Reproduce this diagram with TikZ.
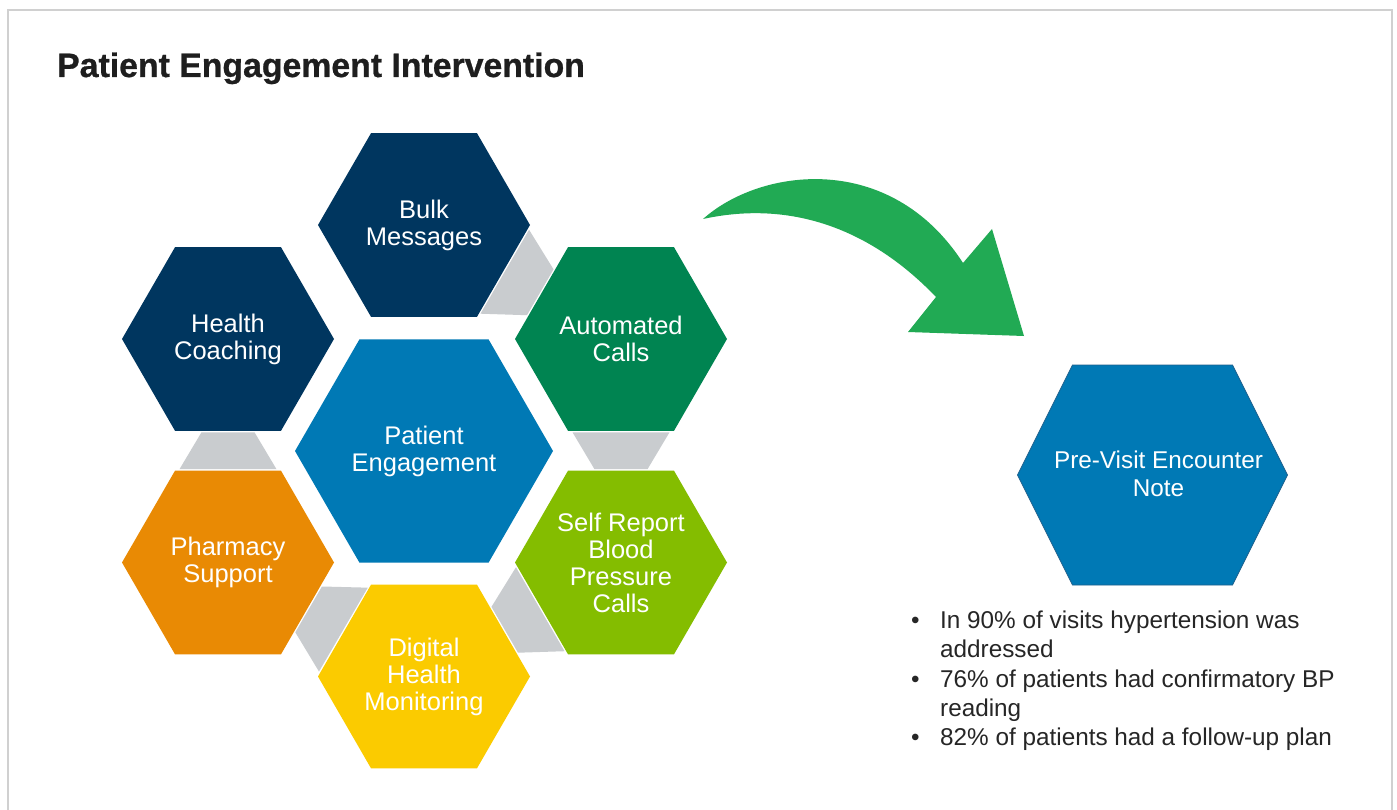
\documentclass[tikz,border=0pt]{standalone}
\usepackage{fontspec}
\setmainfont{Liberation Sans}
\newfontfamily\headingfont[FakeBold=0.8]{Liberation Sans Bold}
\usetikzlibrary{shapes.geometric,calc}

\definecolor{navy}{HTML}{00365F}
\definecolor{deepgreen}{HTML}{008451}
\definecolor{peblue}{HTML}{0079B5}
\definecolor{peedge}{HTML}{1D5F8C}
\definecolor{pharmorange}{HTML}{E98A04}
\definecolor{limegreen}{HTML}{84BD00}
\definecolor{sunyellow}{HTML}{FBCB00}
\definecolor{gapgrey}{HTML}{C9CCCF}
\definecolor{arrowgreen}{HTML}{21AA54}
\definecolor{framegrey}{HTML}{D0D0D0}
\definecolor{titleblack}{HTML}{1E1E1E}
\definecolor{bodygrey}{HTML}{262626}

\tikzset{
  hexnode/.style={regular polygon, regular polygon sides=6, minimum size=212pt,
    inner sep=0pt, outer sep=0pt, text=white, align=center,
    font=\fontsize{25.5}{27}\selectfont},
  bighex/.style={hexnode, minimum size=258pt},
  labeltext/.style={inner sep=0pt, text=white, align=center,
    font=\fontsize{24.3}{28}\selectfont},
}

% grey trapezoid filling the gap between two neighbouring hexagons;
% #1 carries the wide side, #2 the narrow side
\newcommand\gapshape[2]{%
  \fill[gapgrey]
    ($(#1)!93.3pt!(#2)!48.5pt!90:(#2)$) --
    ($(#1)!93.3pt!(#2)!48.5pt!-90:(#2)$) --
    ($(#2)!93.3pt!(#1)!26.5pt!90:(#1)$) --
    ($(#2)!93.3pt!(#1)!26.5pt!-90:(#1)$) -- cycle;}

\begin{document}
\begin{tikzpicture}[x=1pt,y=-1pt]
  \useasboundingbox (0,0) rectangle (1397,810);
  \clip (0,0) rectangle (1397,810);
  \fill[white] (0,0) rectangle (1397,810);
  \draw[framegrey, line width=1.5pt] (8,815) -- (8,10) -- (1392,10) -- (1392,815);

  % title
  \node[anchor=base west, inner sep=0pt, text=titleblack,
        font=\headingfont\fontsize{33.8}{40}\selectfont] (title) at (57,77)
        {Patient Engagement Intervention};

  % hexagon cluster
  \node[hexnode, fill=navy]        (bulk)    at (424,225)   {Bulk\\Messages};
  \node[hexnode, fill=navy]        (health)  at (228,339)   {Health\\Coaching};
  \node[hexnode, fill=deepgreen]   (auto)    at (621,339)   {Automated\\Calls};
  \node[bighex,  fill=peblue]      (core)    at (424,451)   {Patient\\Engagement};
  \node[hexnode, fill=pharmorange] (pharm)   at (228,562.5) {Pharmacy\\Support};
  \node[hexnode, fill=limegreen]   (self)    at (621,562.5) {Self Report\\Blood\\Pressure\\Calls};
  \node[hexnode, fill=sunyellow]   (digital) at (424,676.5) {Digital\\Health\\Monitoring};

  % grey links between neighbours
  \gapshape{bulk}{auto}
  \gapshape{pharm}{health}
  \gapshape{auto}{self}
  \gapshape{digital}{pharm}
  \gapshape{self}{digital}

  % curved green arrow
  \fill[arrowgreen]
    (703,219) .. controls (760,168) and (890,150) .. (963,263)
    -- (992,229) -- (1024,336) -- (908,332) -- (936,297)
    .. controls (870,228) and (790,200) .. (703,219) -- cycle;

  % pre-visit encounter note
  \coordinate (pvc) at (1152.5,475);
  \fill[peblue, draw=peedge, line width=0.8pt]
    ($(pvc)+(-135,0)$) -- ($(pvc)+(-80,-110)$) -- ($(pvc)+(80,-110)$)
    -- ($(pvc)+(135,0)$) -- ($(pvc)+(80,110)$) -- ($(pvc)+(-80,110)$) -- cycle;
  \node[labeltext] (previsit) at ($(pvc)+(6,-1)$) {Pre-Visit Encounter\\Note};

  % results
  \node[anchor=base west, inner sep=0pt, text=bodygrey] (results) at (908,628.5) {%
    \begin{minipage}[t]{470pt}
      \fontsize{24.3}{29.3}\selectfont
      \setlength{\parskip}{0pt}%
      \noindent\hangindent=32pt\hangafter=1\makebox[32pt][l]{\hspace{3pt}\textbullet}In 90\% of visits hypertension was\\addressed\par
      \noindent\hangindent=32pt\hangafter=1\makebox[32pt][l]{\hspace{3pt}\textbullet}76\% of patients had confirmatory BP\\reading\par
      \noindent\hangindent=32pt\hangafter=1\makebox[32pt][l]{\hspace{3pt}\textbullet}82\% of patients had a follow-up plan\par
    \end{minipage}};
\end{tikzpicture}
\end{document}
